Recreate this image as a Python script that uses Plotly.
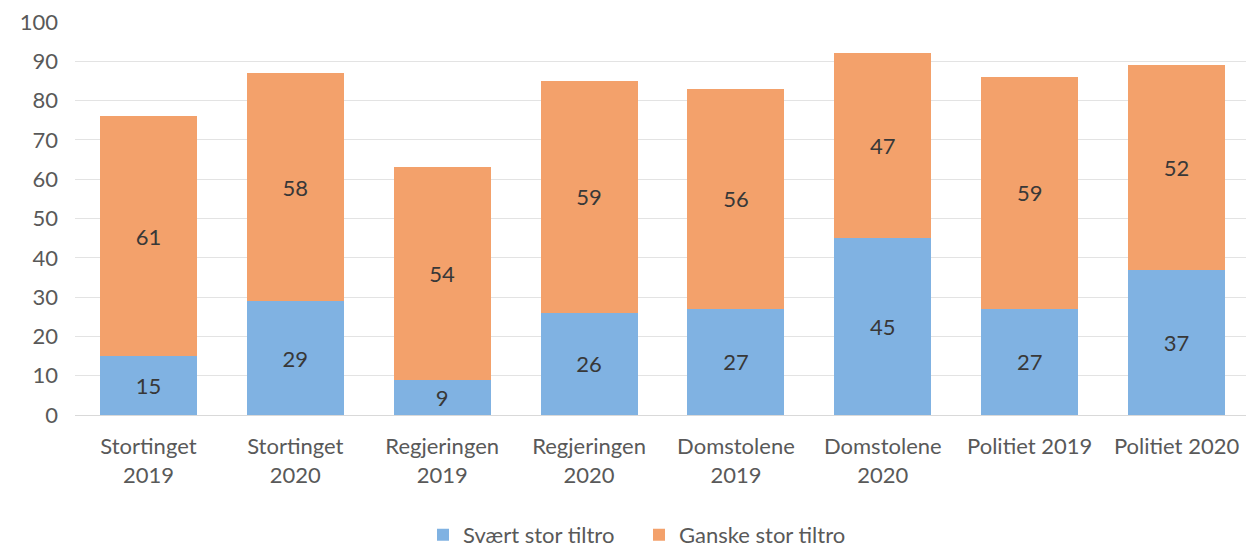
import plotly.graph_objects as go

categories = [
    "Stortinget<br>2019", "Stortinget<br>2020", "Regjeringen<br>2019", "Regjeringen<br>2020",
    "Domstolene<br>2019", "Domstolene<br>2020", "Politiet 2019", "Politiet 2020",
]
svaert_stor = [15, 29, 9, 26, 27, 45, 27, 37]
ganske_stor = [61, 58, 54, 59, 56, 47, 59, 52]

BLUE = "#80b2e2"
ORANGE = "#f3a16b"
FONT = "Lato, Open Sans, sans-serif"

fig = go.Figure()
fig.add_trace(go.Bar(
    x=categories, y=svaert_stor, name="Svært stor tiltro",
    marker=dict(color=BLUE, line=dict(width=0)),
    text=svaert_stor, textposition="inside", insidetextanchor="middle",
    textfont=dict(color="#383838", size=22, family=FONT),
))
fig.add_trace(go.Bar(
    x=categories, y=ganske_stor, name="Ganske stor tiltro",
    marker=dict(color=ORANGE, line=dict(width=0)),
    text=ganske_stor, textposition="inside", insidetextanchor="middle",
    textfont=dict(color="#383838", size=22, family=FONT),
))

fig.update_layout(
    barmode="stack",
    bargap=0.34,
    width=1246, height=539,
    margin=dict(l=67, r=4, t=14, b=132, autoexpand=False),
    plot_bgcolor="white", paper_bgcolor="white",
    font=dict(family=FONT, color="#595959", size=22),
    uniformtext=dict(mode="show", minsize=22),
    legend=dict(
        orientation="h", x=0.48, xanchor="center", y=-0.305, yanchor="middle",
        font=dict(size=22, color="#595959"), traceorder="normal",
        itemwidth=30, entrywidth=171,
    ),
    xaxis=dict(showgrid=False, showline=True, linecolor="#d9d9d9", linewidth=1,
               tickfont=dict(size=22, color="#595959"), ticklabelstandoff=12,
               automargin=False),
    yaxis=dict(range=[0, 100], dtick=10, showgrid=True, gridcolor="#e3e3e3",
               zeroline=False, tickfont=dict(size=22, color="#595959"),
               ticklabelstandoff=16, automargin=False, ticklabeloverflow="allow"),
)

fig.write_html("out.html")
